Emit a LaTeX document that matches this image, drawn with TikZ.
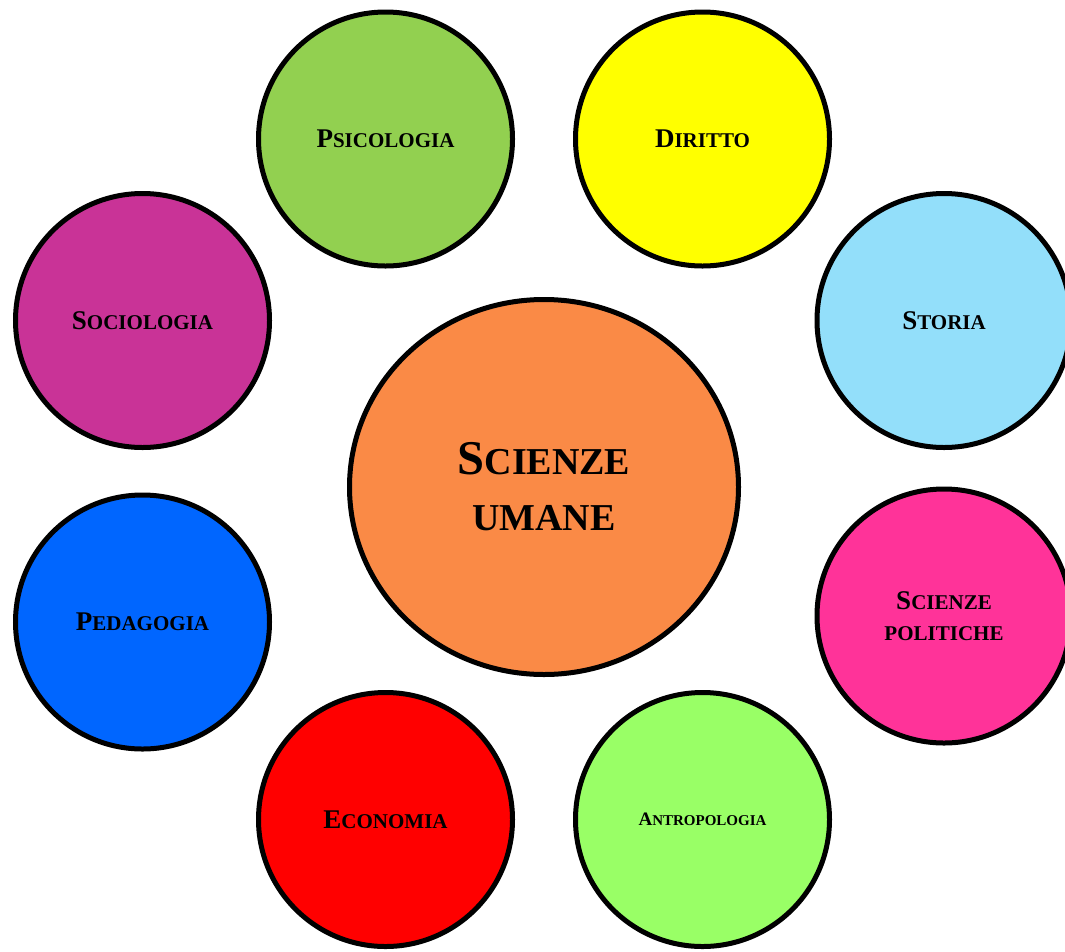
\documentclass[tikz,border=0pt]{standalone}
\usepackage{fontspec}
\setmainfont{Liberation Serif}
\usetikzlibrary{shapes.geometric}
\definecolor{cPsi}{HTML}{92D050}
\definecolor{cDir}{HTML}{FFFF00}
\definecolor{cSoc}{HTML}{C93397}
\definecolor{cSto}{HTML}{93DFFA}
\definecolor{cPed}{HTML}{0066FF}
\definecolor{cPol}{HTML}{FF3399}
\definecolor{cEco}{HTML}{FF0000}
\definecolor{cAnt}{HTML}{99FF66}
\definecolor{cCen}{HTML}{FA8A46}
\newcommand\smc[3]{{\fontsize{#1}{#2}\selectfont #3}}
\newcommand\lab[2]{\smc{27}{31}{#1}\smc{21}{31}{#2}}
\tikzset{
  disc/.style={circle, draw=black, line width=5pt, minimum size=254pt, inner sep=0pt,
    align=center, font=\bfseries\fontsize{27}{31}\selectfont},
  hub/.style={ellipse, draw=black, line width=5pt, minimum width=389pt, minimum height=375pt,
    inner sep=0pt, align=center, font=\bfseries\fontsize{48.5}{56}\selectfont, fill=cCen}
}
\begin{document}
\begin{tikzpicture}[x=1pt,y=1pt]
\useasboundingbox (0,0) rectangle (1065,-951);
\node[hub] (cen) at (544,-487) {\smc{48.5}{56}{S}\smc{38}{56}{CIENZE}\\\smc{38}{56}{UMANE}};
\node[disc, fill=cPsi] (psi) at (385.5,-139) {\lab{P}{SICOLOGIA}};
\node[disc, fill=cDir] (dir) at (702.5,-139) {\lab{D}{IRITTO}};
\node[disc, fill=cSoc] (soc) at (142.5,-320.5) {\lab{S}{OCIOLOGIA}};
\node[disc, fill=cSto] (sto) at (944,-320.5) {\lab{S}{TORIA}};
\node[disc, fill=cPed] (ped) at (142.5,-622) {\lab{P}{EDAGOGIA}};
\node[disc, fill=cPol] (pol) at (944,-616) {\lab{S}{CIENZE}\\\smc{21}{31}{POLITICHE}};
\node[disc, fill=cEco] (eco) at (385.5,-819.5) {\lab{E}{CONOMIA}};
\node[disc, fill=cAnt] (ant) at (702.5,-819.5) {\smc{19}{22}{A}\smc{15}{22}{NTROPOLOGIA}};
\end{tikzpicture}
\end{document}
